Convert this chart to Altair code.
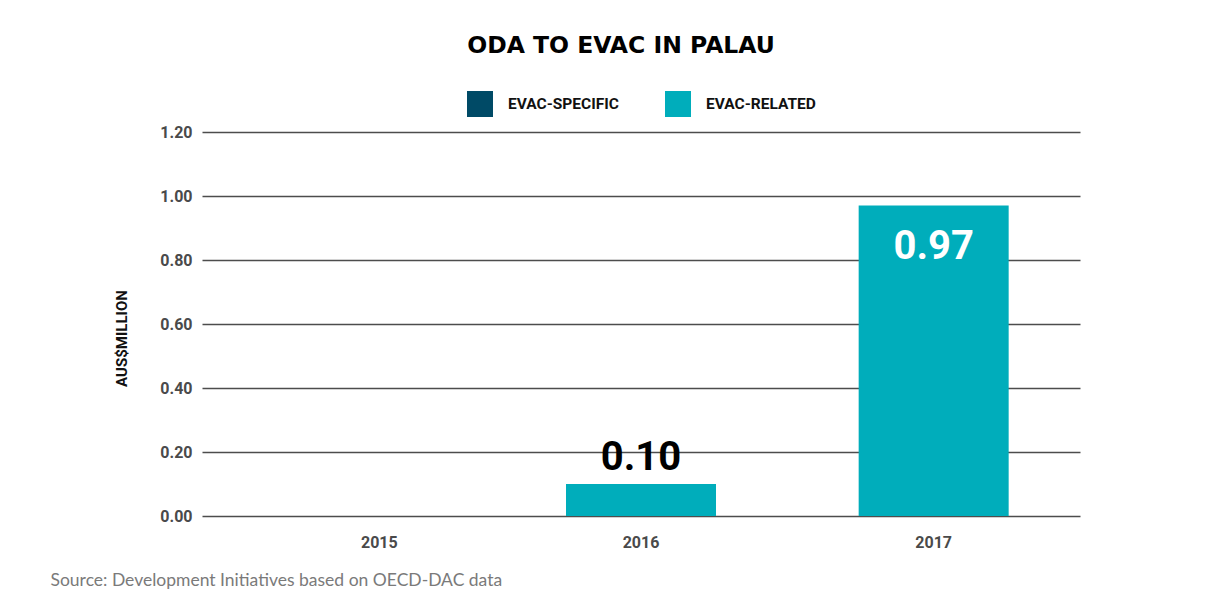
import altair as alt
import pandas as pd

years = ["2015", "2016", "2017"]
evac_specific = [0.0, 0.0, 0.0]
evac_related = [0.0, 0.10, 0.97]
series = ["EVAC-SPECIFIC", "EVAC-RELATED"]
colors = ["#004a66", "#00adbb"]
y_ticks = [0, 0.2, 0.4, 0.6, 0.8, 1.0, 1.2]

rows = []
for i, yr in enumerate(years):
    rows.append({"year": yr, "series": series[0], "value": evac_specific[i], "order": 0})
    rows.append({"year": yr, "series": series[1], "value": evac_related[i], "order": 1})
df = pd.DataFrame(rows)

totals = pd.DataFrame({
    "year": years,
    "total": [a + b for a, b in zip(evac_specific, evac_related)],
})
totals["label"] = totals["total"].map(lambda v: f"{v:.2f}")

COND = "Roboto"

x_enc = alt.X(
    "year:N",
    sort=years,
    scale=alt.Scale(paddingInner=0, paddingOuter=0),
    axis=alt.Axis(
        title="Source: Development Initiatives based on OECD-DAC data",
        titleFont="Lato",
        titleFontSize=17.5,
        titleFontWeight="normal",
        titleColor="#7a7a7a",
        titleX=-152,
        titleY=64,
        titleAlign="left",
        titleBaseline="middle",
        labelFont=COND,
        labelFontSize=16,
        labelFontWeight="bold",
        labelColor="#4a4a4a",
        labelPadding=18,
        labelAngle=0,
        labelOffset={"condition": {"test": "datum.value == '2015'", "value": 31}, "value": 0},
        ticks=False,
        domain=False,
        grid=False,
    ),
)

y_scale = alt.Scale(domain=[0, 1.2], nice=False)

bars = alt.Chart(df).mark_bar(size=150).encode(
    x=x_enc,
    y=alt.Y(
        "value:Q",
        stack="zero",
        scale=y_scale,
        axis=alt.Axis(
            title="AUS$MILLION",
            titleFont=COND,
            titleFontSize=15,
            titleFontWeight="bold",
            titleColor="#111111",
            titleX=-81,
            titleY=206,
            titleAlign="center",
            titleBaseline="middle",
            values=y_ticks,
            format=".2f",
            labelFont=COND,
            labelFontSize=16,
            labelFontWeight="bold",
            labelColor="#4a4a4a",
            labelPadding=10,
            ticks=False,
            domain=False,
            grid=True,
            gridColor="#4d4d4d",
            gridWidth=1.5,
        ),
    ),
    color=alt.Color(
        "series:N",
        scale=alt.Scale(domain=series, range=colors),
        legend=alt.Legend(
            title=None,
            orient="none",
            legendX=265,
            legendY=-41,
            direction="horizontal",
            columns=2,
            columnPadding=46,
            symbolType="square",
            symbolSize=676,
            symbolStrokeWidth=0,
            symbolOpacity=1,
            labelOffset=15,
            labelFont=COND,
            labelFontSize=15.5,
            labelFontWeight="bold",
            labelColor="#111111",
        ),
    ),
    order=alt.Order("order:Q"),
)

outside = alt.Chart(totals).transform_filter(
    "datum.total > 0 && datum.total < 0.5"
).mark_text(
    font=COND, fontSize=40, fontWeight="bold", color="#000000",
    baseline="alphabetic", dy=-14,
).encode(
    x=alt.X("year:N", sort=years),
    y=alt.Y("total:Q", scale=y_scale),
    text="label:N",
)

inside = alt.Chart(totals).transform_filter(
    "datum.total >= 0.5"
).mark_text(
    font=COND, fontSize=40, fontWeight="bold", color="#ffffff",
    baseline="alphabetic", dy=53,
).encode(
    x=alt.X("year:N", sort=years),
    y=alt.Y("total:Q", scale=y_scale),
    text="label:N",
)

chart = alt.layer(bars, outside, inside).properties(
    width=878,
    height=384,
    autosize=alt.AutoSizeParams(type="none"),
    padding={"left": 194, "top": 124, "right": 130, "bottom": 90},
    background="#ffffff",
    title=alt.TitleParams(
        "ODA TO EVAC IN PALAU",
        font="DejaVu Sans",
        fontSize=23.5,
        fontWeight="bold",
        color="#000000",
        anchor="middle",
        frame="group",
        dx=-20,
        offset=15,
        baseline="alphabetic",
        limit=0,
    ),
).configure_view(stroke=None)

chart.save("out.html", embed_options={"renderer": "svg", "actions": False})
